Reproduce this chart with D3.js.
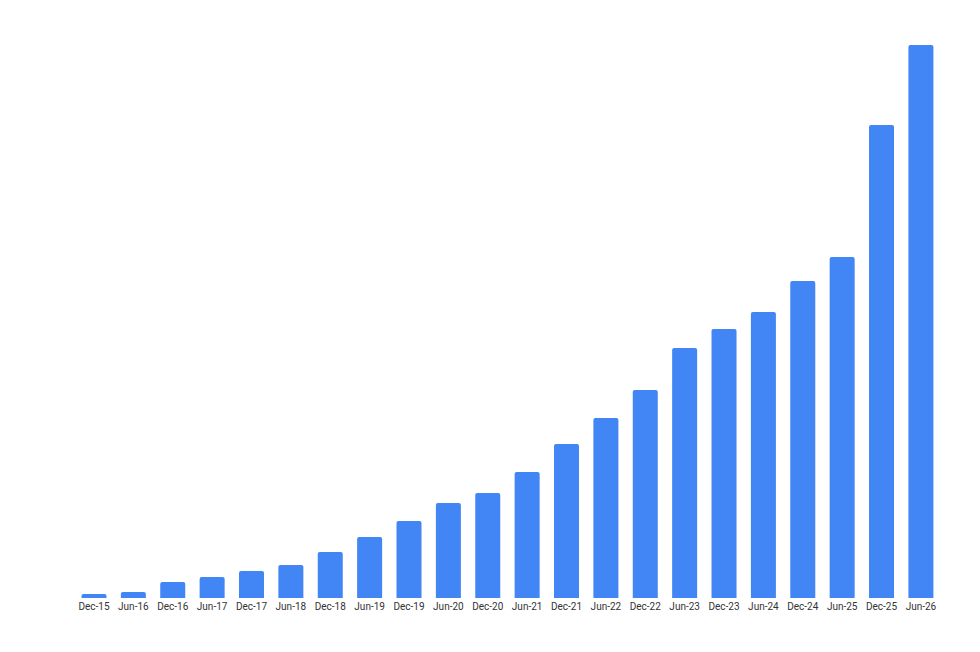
<!DOCTYPE html>
<html>
<head>
<meta charset="utf-8">
<script src="https://cdn.jsdelivr.net/npm/d3@7"></script>
<style>
  body { margin: 0; background: #fff; }
  text { font-family: Roboto, "Noto Sans", sans-serif; }
</style>
</head>
<body>
<svg id="chart" width="980" height="652"></svg>
<script>
const categories = ["Dec-15", "Jun-16", "Dec-16", "Jun-17", "Dec-17", "Jun-18", "Dec-18", "Jun-19",
  "Dec-19", "Jun-20", "Dec-20", "Jun-21", "Dec-21", "Jun-22", "Dec-22", "Jun-23", "Dec-23",
  "Jun-24", "Dec-24", "Jun-25", "Dec-25", "Jun-26"];
const values = [4, 6, 16, 21, 27, 33, 46, 61, 77, 95, 105, 126, 154, 180, 208, 250, 269, 286,
  317, 341, 473, 553];

const svg = d3.select("#chart");
const baseY = 598;

const x = d3.scaleBand()
  .domain(categories)
  .range([74.3, 940.6])
  .paddingInner(0.365)
  .paddingOuter(0.1825);

const y = d3.scaleLinear()
  .domain([0, 553])
  .range([baseY, 45]);

svg.append("g")
  .selectAll("path")
  .data(categories)
  .enter()
  .append("path")
  .attr("fill", "#4285f4")
  .attr("d", (d, i) => {
    const x0 = x(d), w = x.bandwidth(), t = y(values[i]), r = Math.min(2, (baseY - t) / 2);
    return "M" + x0 + "," + baseY +
      "V" + (t + r) + "Q" + x0 + "," + t + " " + (x0 + r) + "," + t +
      "H" + (x0 + w - r) + "Q" + (x0 + w) + "," + t + " " + (x0 + w) + "," + (t + r) +
      "V" + baseY + "Z";
  });

const axis = svg.append("g")
  .attr("transform", "translate(0," + baseY + ")")
  .call(d3.axisBottom(x).tickSize(0).tickPadding(5));
axis.select(".domain").remove();
axis.selectAll("text")
  .attr("font-size", 10)
  .attr("fill", "#333")
  .style("font-family", "Roboto, 'Noto Sans', sans-serif");
</script>
</body>
</html>
